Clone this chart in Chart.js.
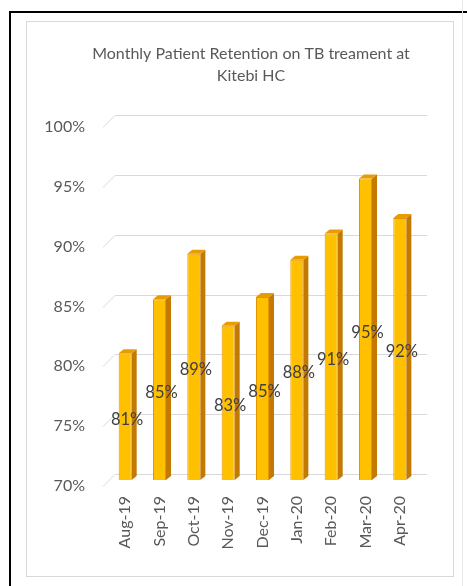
<!DOCTYPE html>
<html>
<head>
<meta charset="utf-8">
<script src="https://cdn.jsdelivr.net/npm/chart.js@4.4.1/dist/chart.umd.min.js"></script>
<style>
body{margin:0;background:#fff;width:467px;height:586px;overflow:hidden;position:relative}
.edge{position:absolute}
</style>
</head>
<body>
<div class="edge" style="left:9px;top:11px;width:458px;height:2px;background:#000"></div>
<div class="edge" style="left:9px;top:11px;width:2px;height:575px;background:#000"></div>
<div class="edge" style="left:462px;top:0;width:1px;height:586px;background:#e8e8e8"></div>
<div class="edge" style="left:26px;top:21px;width:426px;height:554px;border:1px solid #d9d9d9"></div>
<canvas id="retentionChart" width="467" height="586" style="position:absolute;left:0;top:0"></canvas>
<script>
const months = ['Aug-19', 'Sep-19', 'Oct-19', 'Nov-19', 'Dec-19', 'Jan-20', 'Feb-20', 'Mar-20', 'Apr-20']
const retention = [80.6, 85.1, 88.9, 82.9, 85.3, 88.4, 90.6, 95.2, 91.9]
const yTicks = [70, 75, 80, 85, 90, 95, 100]
const titleLines = ['Monthly Patient Retention on TB treament at', 'Kitebi HC']

const fontFamily = 'Lato, "Liberation Sans", sans-serif'

// fake excel 3d look: back wall grid, bars pushed back a bit, side + top faces
const excel3d = {
    id: 'excel3d',
    afterLayout(chart){
        // title sits centred on the plot, not on the canvas
        const t = chart.titleBlock
        t.left = 51
        t.right = 451
    },
    beforeDatasetsDraw(chart){
        const {ctx, chartArea, scales} = chart
        ctx.save()
        ctx.strokeStyle = '#d9d9d9'
        ctx.lineWidth = 1
        yTicks.forEach(t=>{
            const py = Math.round(scales.y.getPixelForValue(t)) + 0.5
            ctx.beginPath()
            ctx.moveTo(chartArea.left - 5, py)
            ctx.lineTo(chartArea.left + 7, py - 12)
            ctx.lineTo(chartArea.right + 10, py - 12)
            ctx.stroke()
        })
        ctx.restore()
        ctx.save()
        ctx.translate(0, -6)
    },
    afterDatasetsDraw(chart){
        const {ctx, chartArea} = chart
        const bars = chart.getDatasetMeta(0).data
        const floor = chartArea.bottom
        bars.forEach(bar=>{
            const x0 = bar.x - bar.width / 2
            const x1 = bar.x + bar.width / 2
            const top = bar.y
            const d = 5
            const dy = 4
            ctx.fillStyle = '#c47a00'
            ctx.beginPath()
            ctx.moveTo(x1, top)
            ctx.lineTo(x1 + d, top - dy)
            ctx.lineTo(x1 + d, floor - dy)
            ctx.lineTo(x1, floor)
            ctx.closePath()
            ctx.fill()
            ctx.fillStyle = '#e99c00'
            ctx.beginPath()
            ctx.moveTo(x0, top)
            ctx.lineTo(x0 + d, top - dy)
            ctx.lineTo(x1 + d, top - dy)
            ctx.lineTo(x1, top)
            ctx.closePath()
            ctx.fill()
        })
        ctx.restore()

        ctx.save()
        ctx.fillStyle = '#404040'
        ctx.font = '16.5px ' + fontFamily
        ctx.textAlign = 'center'
        ctx.textBaseline = 'middle'
        bars.forEach((bar, i)=>{
            const y = (bar.y + floor) / 2 - 3
            ctx.fillText(Math.round(retention[i]) + '%', bar.x + 2, y)
        })
        ctx.restore()
    }
}

const data = {
    labels: months,
    datasets: [{
        label: 'Retention',
        data: retention,
        backgroundColor: '#ffc000',
        borderColor: '#e39500',
        borderWidth: 1,
        barPercentage: 0.38,
        categoryPercentage: 1
    }]
}

const config = {
    type: 'bar',
    data: data,
    options: {
        responsive: false,
        animation: false,
        layout: {
            padding: {left: 0, right: 50, top: 0, bottom: 0}
        },
        plugins: {
            legend: {display: false},
            tooltip: {enabled: false},
            title: {
                display: true,
                text: titleLines,
                color: '#595959',
                font: {family: fontFamily, size: 16, weight: 'normal', lineHeight: '22px'},
                padding: {top: 43, bottom: 40}
            }
        },
        scales: {
            x: {
                grid: {display: false, drawTicks: false},
                border: {display: false},
                ticks: {
                    color: '#595959',
                    font: {family: fontFamily, size: 16},
                    minRotation: 90,
                    maxRotation: 90,
                    autoSkip: false,
                    padding: 10
                },
                afterFit(scale){
                    scale.height = 100
                }
            },
            y: {
                min: 70,
                max: 100,
                grid: {display: false, drawTicks: false},
                border: {display: false},
                ticks: {
                    stepSize: 5,
                    color: '#595959',
                    font: {family: fontFamily, size: 16},
                    padding: 23,
                    callback: v=>v + '%'
                },
                afterFit(scale){
                    scale.width = 108
                }
            }
        }
    },
    plugins: [excel3d]
}

const myChart = new Chart(
    document.getElementById('retentionChart'),
    config
)
</script>
</body>
</html>
